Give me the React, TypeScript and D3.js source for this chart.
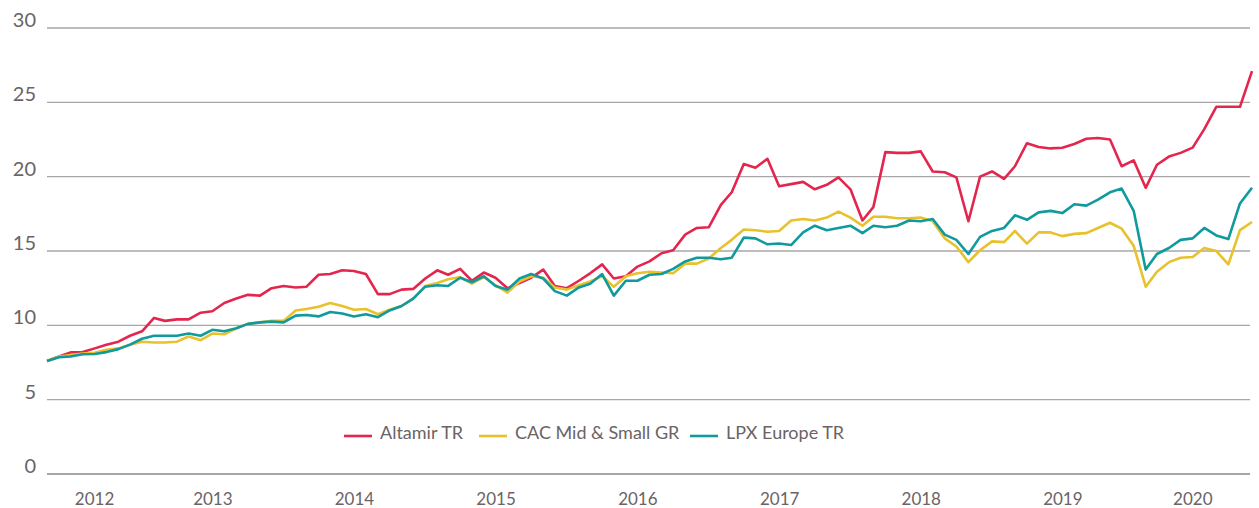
import React, { useEffect, useRef } from 'react';
import * as d3 from 'd3';

// monthly observations, May 2012 -> Nov 2020
const startMonth = new Date(2012, 4, 1);

const altamirTR = [
  7.6, 7.9, 8.18, 8.2, 8.45, 8.7, 8.9, 9.3, 9.6, 10.5, 10.3, 10.4, 10.4, 10.85, 10.95, 11.5,
  11.8, 12.05, 12.0, 12.5, 12.65, 12.55, 12.6, 13.4, 13.45, 13.7, 13.65, 13.45, 12.1, 12.1, 12.4, 12.45,
  13.15, 13.7, 13.4, 13.8, 13.0, 13.55, 13.2, 12.5, 12.85, 13.2, 13.75, 12.65, 12.5, 13.0, 13.5, 14.1,
  13.15, 13.3, 13.95, 14.3, 14.85, 15.05, 16.1, 16.55, 16.6, 18.1, 18.95, 20.85, 20.6, 21.2, 19.35, 19.5,
  19.65, 19.15, 19.45, 19.95, 19.15, 17.05, 17.95, 21.65, 21.6, 21.6, 21.7, 20.35, 20.3, 19.95, 17.0, 20.0,
  20.35, 19.85, 20.7, 22.25, 22.0, 21.9, 21.95, 22.2, 22.55, 22.6, 22.5, 20.7, 21.1, 19.25, 20.8, 21.35,
  21.6, 21.95, 23.2, 24.7, 24.7, 24.7, 27.1,
];

const cacMidSmallGR = [
  7.6, 7.9, 8.0, 8.1, 8.15, 8.35, 8.45, 8.7, 8.9, 8.85, 8.85, 8.9, 9.25, 9.0, 9.45, 9.4,
  9.8, 10.1, 10.2, 10.3, 10.3, 11.0, 11.1, 11.25, 11.5, 11.3, 11.05, 11.1, 10.75, 11.05, 11.3, 11.8,
  12.65, 12.85, 13.1, 13.25, 12.8, 13.25, 12.7, 12.2, 12.95, 13.3, 13.2, 12.55, 12.4, 12.7, 12.95, 13.3,
  12.6, 13.3, 13.5, 13.6, 13.55, 13.5, 14.15, 14.15, 14.5, 15.2, 15.75, 16.45, 16.4, 16.3, 16.35, 17.05,
  17.15, 17.05, 17.25, 17.65, 17.25, 16.7, 17.3, 17.3, 17.2, 17.2, 17.25, 17.0, 15.85, 15.3, 14.25, 15.05,
  15.65, 15.6, 16.35, 15.5, 16.25, 16.25, 16.0, 16.15, 16.2, 16.55, 16.9, 16.5, 15.35, 12.6, 13.6, 14.25,
  14.55, 14.6, 15.2, 15.0, 14.1, 16.4, 16.95,
];

const lpxEuropeTR = [
  7.6, 7.85, 7.9, 8.05, 8.07, 8.2, 8.4, 8.7, 9.1, 9.3, 9.3, 9.3, 9.45, 9.3, 9.7, 9.6,
  9.8, 10.1, 10.2, 10.25, 10.2, 10.65, 10.7, 10.6, 10.9, 10.8, 10.6, 10.75, 10.55, 11.0, 11.3, 11.8,
  12.6, 12.7, 12.65, 13.2, 12.9, 13.3, 12.65, 12.4, 13.15, 13.45, 13.15, 12.3, 12.0, 12.55, 12.8, 13.45,
  12.0, 13.0, 13.0, 13.4, 13.45, 13.8, 14.3, 14.55, 14.55, 14.45, 14.55, 15.9, 15.85, 15.45, 15.5, 15.4,
  16.25, 16.7, 16.4, 16.55, 16.7, 16.2, 16.7, 16.6, 16.7, 17.05, 17.0, 17.15, 16.1, 15.75, 14.8, 15.95,
  16.35, 16.55, 17.4, 17.1, 17.6, 17.7, 17.55, 18.15, 18.05, 18.45, 18.95, 19.2, 17.7, 13.75, 14.8, 15.2,
  15.75, 15.85, 16.55, 16.05, 15.8, 18.2, 19.25,
];

const seriesNames = ['Altamir TR', 'CAC Mid & Small GR', 'LPX Europe TR'];
const seriesColors = ['#e3264e', '#e8c12c', '#109a9d'];
const yTicks = [0, 5, 10, 15, 20, 25, 30];
const yearLabels = [2012, 2013, 2014, 2015, 2016, 2017, 2018, 2019, 2020];

const width = 1259;
const height = 508;
const textColor = '#6b6365';
const fontFamily = 'Lato, "Open Sans", sans-serif';

const App: React.FC = () => {
  const svgRef = useRef<SVGSVGElement>(null);

  useEffect(() => {
    if (!svgRef.current) return;
    const svg = d3.select(svgRef.current);
    svg.selectAll('*').remove();

    const months = altamirTR.map((_, i) => d3.timeMonth.offset(startMonth, i));
    const lastMonth = months[months.length - 1];

    const x = d3.scaleTime()
      .domain([startMonth, lastMonth])
      .range([47, 1252]);

    const y = d3.scaleLinear()
      .domain([0, 30])
      .range([474, 28]);

    // gridlines
    svg.append('g')
      .selectAll('line')
      .data(yTicks)
      .enter()
      .append('line')
      .attr('x1', 47)
      .attr('x2', 1250)
      .attr('y1', d => y(d))
      .attr('y2', d => y(d))
      .attr('stroke', d => (d === 0 ? '#8f8688' : '#aaa6a7'))
      .attr('stroke-width', 1.4);

    // y labels sit just above their gridline
    svg.append('g')
      .selectAll('text')
      .data(yTicks)
      .enter()
      .append('text')
      .attr('x', 36)
      .attr('y', d => y(d) - 1)
      .attr('text-anchor', 'end')
      .attr('font-family', fontFamily)
      .attr('font-size', '20px')
      .attr('fill', textColor)
      .text(d => d);

    // year labels centred on the part of the year that has data
    svg.append('g')
      .selectAll('text')
      .data(yearLabels)
      .enter()
      .append('text')
      .attr('x', d => {
        const a = d3.max([new Date(d, 0, 1), startMonth]) as Date;
        const b = d3.min([new Date(d + 1, 0, 1), lastMonth]) as Date;
        return (x(a) + x(b)) / 2;
      })
      .attr('y', 505)
      .attr('text-anchor', 'middle')
      .attr('font-family', fontFamily)
      .attr('font-size', '17px')
      .attr('fill', textColor)
      .text(d => d);

    const line = d3.line<number>()
      .x((_, i) => x(months[i]))
      .y(d => y(d))
      .curve(d3.curveLinear);

    const series = [altamirTR, cacMidSmallGR, lpxEuropeTR];
    svg.append('g')
      .selectAll('path')
      .data(series)
      .enter()
      .append('path')
      .attr('d', d => line(d))
      .attr('fill', 'none')
      .attr('stroke', (_, i) => seriesColors[i])
      .attr('stroke-width', 2.6)
      .attr('stroke-linejoin', 'round');

    // legend
    const legendX = [344, 479, 690];
    const legend = svg.append('g')
      .selectAll('g')
      .data(seriesNames)
      .enter()
      .append('g')
      .attr('transform', (_, i) => `translate(${legendX[i]}, 436)`);

    legend.append('line')
      .attr('x1', 0)
      .attr('x2', 28)
      .attr('stroke', (_, i) => seriesColors[i])
      .attr('stroke-width', 2.6);

    legend.append('text')
      .attr('x', 36)
      .attr('y', 2.5)
      .attr('font-family', fontFamily)
      .attr('font-size', '18px')
      .attr('fill', textColor)
      .text(d => d);
  }, []);

  return (
    <svg
      ref={svgRef}
      width={width}
      height={height}
      style={{ position: 'absolute', left: 0, top: 0, background: '#fff' }}
    ></svg>
  );
};

export default App;
